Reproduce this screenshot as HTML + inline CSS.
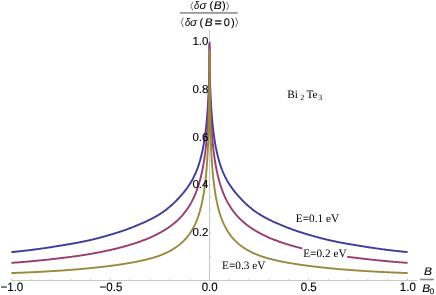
<!DOCTYPE html>
<html><head><meta charset="utf-8"><title>plot</title>
<style>
html,body{margin:0;padding:0;background:#fff;}
body{width:436px;height:295px;overflow:hidden;}
svg{display:block;will-change:transform;}
text{text-rendering:geometricPrecision;}
.sans{font-family:"Liberation Sans",sans-serif;font-size:11.5px;fill:#000;stroke:#000;stroke-width:0.12px;}
.serif{font-family:"Liberation Serif",serif;font-size:11.3px;fill:#000;}
</style></head><body>
<svg width="436" height="295" viewBox="0 0 436 295">
<g stroke="#c8c8c8" stroke-width="1" fill="none">
<line x1="11.40" x2="416.90" y1="280.5" y2="280.5"/>
<line x1="209.5" x2="209.5" y1="280.5" y2="30.2"/>
</g>
<g stroke="#9a9a9a" stroke-width="0.6" fill="none">
<line x1="11.40" x2="11.40" y1="280" y2="278.70"/>
<line x1="31.21" x2="31.21" y1="280" y2="279.10"/>
<line x1="51.02" x2="51.02" y1="280" y2="279.10"/>
<line x1="70.83" x2="70.83" y1="280" y2="279.10"/>
<line x1="90.64" x2="90.64" y1="280" y2="279.10"/>
<line x1="110.45" x2="110.45" y1="280" y2="278.70"/>
<line x1="130.26" x2="130.26" y1="280" y2="279.10"/>
<line x1="150.07" x2="150.07" y1="280" y2="279.10"/>
<line x1="169.88" x2="169.88" y1="280" y2="279.10"/>
<line x1="189.69" x2="189.69" y1="280" y2="279.10"/>
<line x1="209.50" x2="209.50" y1="280" y2="278.70"/>
<line x1="229.31" x2="229.31" y1="280" y2="279.10"/>
<line x1="249.12" x2="249.12" y1="280" y2="279.10"/>
<line x1="268.93" x2="268.93" y1="280" y2="279.10"/>
<line x1="288.74" x2="288.74" y1="280" y2="279.10"/>
<line x1="308.55" x2="308.55" y1="280" y2="278.70"/>
<line x1="328.36" x2="328.36" y1="280" y2="279.10"/>
<line x1="348.17" x2="348.17" y1="280" y2="279.10"/>
<line x1="367.98" x2="367.98" y1="280" y2="279.10"/>
<line x1="387.79" x2="387.79" y1="280" y2="279.10"/>
<line x1="407.60" x2="407.60" y1="280" y2="278.70"/>
<line x1="210" x2="210.90" y1="268.37" y2="268.37"/>
<line x1="210" x2="210.90" y1="256.44" y2="256.44"/>
<line x1="210" x2="210.90" y1="244.51" y2="244.51"/>
<line x1="210" x2="211.30" y1="232.58" y2="232.58"/>
<line x1="210" x2="210.90" y1="220.65" y2="220.65"/>
<line x1="210" x2="210.90" y1="208.72" y2="208.72"/>
<line x1="210" x2="210.90" y1="196.79" y2="196.79"/>
<line x1="210" x2="211.30" y1="184.86" y2="184.86"/>
<line x1="210" x2="210.90" y1="172.93" y2="172.93"/>
<line x1="210" x2="210.90" y1="161.00" y2="161.00"/>
<line x1="210" x2="210.90" y1="149.07" y2="149.07"/>
<line x1="210" x2="211.30" y1="137.14" y2="137.14"/>
<line x1="210" x2="210.90" y1="125.21" y2="125.21"/>
<line x1="210" x2="210.90" y1="113.28" y2="113.28"/>
<line x1="210" x2="210.90" y1="101.35" y2="101.35"/>
<line x1="210" x2="211.30" y1="89.42" y2="89.42"/>
<line x1="210" x2="210.90" y1="77.49" y2="77.49"/>
<line x1="210" x2="210.90" y1="65.56" y2="65.56"/>
<line x1="210" x2="210.90" y1="53.63" y2="53.63"/>
<line x1="210" x2="211.30" y1="41.70" y2="41.70"/>
</g>
<g fill="none" stroke-width="1.9" stroke-linejoin="round" stroke-linecap="butt">
<path d="M11.40,252.11 L11.60,252.09 L12.19,252.03 L12.79,251.97 L13.38,251.91 L13.98,251.85 L14.57,251.80 L15.16,251.74 L15.76,251.68 L16.35,251.62 L16.95,251.56 L17.54,251.49 L18.14,251.43 L18.73,251.37 L19.32,251.31 L19.92,251.25 L20.51,251.18 L21.11,251.12 L21.70,251.05 L22.30,250.99 L22.89,250.92 L23.48,250.86 L24.08,250.79 L24.67,250.72 L25.27,250.65 L25.86,250.59 L26.46,250.52 L27.05,250.45 L27.64,250.38 L28.24,250.31 L28.83,250.23 L29.43,250.16 L30.02,250.09 L30.62,250.02 L31.21,249.94 L31.80,249.87 L32.40,249.79 L32.99,249.72 L33.59,249.64 L34.18,249.56 L34.78,249.49 L35.37,249.41 L35.96,249.33 L36.56,249.25 L37.15,249.17 L37.75,249.09 L38.34,249.01 L38.94,248.93 L39.53,248.84 L40.12,248.76 L40.72,248.68 L41.31,248.59 L41.91,248.51 L42.50,248.43 L43.10,248.34 L43.69,248.25 L44.28,248.17 L44.88,248.08 L45.47,247.99 L46.07,247.91 L46.66,247.82 L47.26,247.73 L47.85,247.64 L48.44,247.55 L49.04,247.46 L49.63,247.37 L50.23,247.28 L50.82,247.19 L51.42,247.09 L52.01,247.00 L52.60,246.91 L53.20,246.81 L53.79,246.72 L54.39,246.62 L54.98,246.53 L55.58,246.43 L56.17,246.34 L56.76,246.24 L57.36,246.14 L57.95,246.05 L58.55,245.95 L59.14,245.85 L59.74,245.75 L60.33,245.65 L60.92,245.55 L61.52,245.45 L62.11,245.35 L62.71,245.25 L63.30,245.16 L63.90,245.06 L64.49,244.96 L65.09,244.86 L65.68,244.76 L66.27,244.66 L66.87,244.56 L67.46,244.46 L68.06,244.36 L68.65,244.26 L69.25,244.16 L69.84,244.06 L70.43,243.96 L71.03,243.86 L71.62,243.76 L71.80,243.73 L72.22,243.65 L72.81,243.55 L73.41,243.45 L74.00,243.34 L74.59,243.24 L75.19,243.13 L75.78,243.02 L76.38,242.92 L76.97,242.81 L77.57,242.70 L78.16,242.59 L78.75,242.48 L79.35,242.36 L79.94,242.25 L80.54,242.13 L81.13,242.02 L81.73,241.90 L82.32,241.78 L82.91,241.66 L83.51,241.54 L84.10,241.42 L84.70,241.30 L85.29,241.17 L85.89,241.05 L86.48,240.92 L87.07,240.79 L87.67,240.66 L88.26,240.52 L88.86,240.39 L89.45,240.25 L90.05,240.11 L90.64,239.97 L91.23,239.83 L91.83,239.69 L92.42,239.55 L93.02,239.40 L93.61,239.26 L94.21,239.11 L94.80,238.96 L95.39,238.82 L95.99,238.67 L96.58,238.51 L97.18,238.36 L97.77,238.21 L98.37,238.06 L98.96,237.90 L99.55,237.74 L100.15,237.59 L100.74,237.43 L101.34,237.27 L101.93,237.11 L102.53,236.95 L103.12,236.79 L103.71,236.62 L104.31,236.46 L104.90,236.29 L105.50,236.13 L106.09,235.96 L106.69,235.79 L107.28,235.62 L107.87,235.45 L108.47,235.28 L109.06,235.10 L109.66,234.93 L110.25,234.76 L110.85,234.58 L111.44,234.40 L112.03,234.22 L112.63,234.04 L113.22,233.86 L113.82,233.68 L114.41,233.50 L115.01,233.32 L115.60,233.13 L116.19,232.95 L116.70,232.79 L116.79,232.76 L117.38,232.58 L117.98,232.39 L118.57,232.20 L119.17,232.01 L119.76,231.82 L120.35,231.63 L120.95,231.43 L121.54,231.23 L122.14,231.03 L122.73,230.83 L123.33,230.63 L123.92,230.42 L124.52,230.21 L125.11,230.00 L125.70,229.79 L126.30,229.57 L126.89,229.35 L127.49,229.13 L128.08,228.91 L128.68,228.69 L129.27,228.46 L129.86,228.24 L130.46,228.01 L131.05,227.78 L131.65,227.54 L132.24,227.31 L132.84,227.08 L133.43,226.84 L134.02,226.60 L134.62,226.36 L135.21,226.12 L135.81,225.88 L136.40,225.64 L137.00,225.40 L137.59,225.15 L138.18,224.91 L138.78,224.66 L139.37,224.41 L139.97,224.16 L140.56,223.91 L141.16,223.66 L141.75,223.41 L142.34,223.15 L142.94,222.89 L143.53,222.63 L144.13,222.36 L144.72,222.10 L145.32,221.83 L145.91,221.55 L146.50,221.28 L147.10,221.00 L147.69,220.71 L148.29,220.43 L148.88,220.14 L149.48,219.85 L150.07,219.55 L150.66,219.25 L151.26,218.95 L151.85,218.64 L152.45,218.33 L153.04,218.02 L153.64,217.70 L154.23,217.38 L154.82,217.05 L155.42,216.72 L156.01,216.39 L156.61,216.04 L157.20,215.70 L157.80,215.35 L158.39,214.99 L158.98,214.63 L159.58,214.26 L160.17,213.88 L160.77,213.50 L161.36,213.11 L161.96,212.72 L162.55,212.31 L163.14,211.90 L163.74,211.48 L164.33,211.06 L164.93,210.62 L165.52,210.18 L166.12,209.73 L166.71,209.27 L167.30,208.81 L167.90,208.33 L168.49,207.85 L169.09,207.35 L169.68,206.85 L170.28,206.34 L170.87,205.82 L171.46,205.29 L172.06,204.75 L172.65,204.21 L173.25,203.65 L173.84,203.09 L174.44,202.51 L175.03,201.93 L175.62,201.33 L176.22,200.73 L176.81,200.12 L177.41,199.50 L178.00,198.87 L178.60,198.23 L179.19,197.59 L179.78,196.93 L180.38,196.27 L180.97,195.60 L181.57,194.91 L182.16,194.22 L182.76,193.52 L183.35,192.80 L183.95,192.07 L184.54,191.33 L185.13,190.58 L185.73,189.81 L186.32,189.02 L186.92,188.22 L187.51,187.40 L188.11,186.55 L188.70,185.69 L189.29,184.80 L189.89,183.88 L190.48,182.93 L191.08,181.96 L191.67,180.94 L192.27,179.89 L192.86,178.79 L193.45,177.65 L194.05,176.46 L194.64,175.21 L195.24,173.91 L195.83,172.55 L196.43,171.12 L197.02,169.61 L197.61,168.03 L198.21,166.35 L198.80,164.58 L199.40,162.70 L199.99,160.70 L200.59,158.56 L201.18,156.28 L201.77,153.82 L202.37,151.16 L202.96,148.28 L203.24,146.87 L203.53,145.28 L203.56,145.13 L203.81,143.68 L204.08,142.10 L204.34,140.52 L204.58,138.94 L204.81,137.37 L205.03,135.81 L205.25,134.26 L205.45,132.71 L205.64,131.18 L205.82,129.66 L205.99,128.15 L206.16,126.64 L206.32,125.15 L206.47,123.68 L206.61,122.22 L206.75,120.77 L206.88,119.33 L207.00,117.91 L207.12,116.50 L207.23,115.11 L207.34,113.74 L207.44,112.38 L207.54,111.04 L207.63,109.71 L207.72,108.41 L207.80,107.12 L207.88,105.84 L207.96,104.59 L208.03,103.35 L208.10,102.13 L208.17,100.93 L208.23,99.75 L208.29,98.59 L208.35,97.45 L208.40,96.32 L208.45,95.22 L208.50,94.13 L208.55,93.06 L208.60,92.01 L208.64,90.98 L208.68,89.97 L208.72,88.98 L208.75,88.01 L208.79,87.05 L208.82,86.12 L208.86,85.20 L208.89,84.30 L208.91,83.42 L208.94,82.55 L208.97,81.71 L208.99,80.88 L209.02,80.07 L209.04,79.28 L209.06,78.50 L209.08,77.74 L209.10,77.00 L209.12,76.27 L209.14,75.56 L209.16,74.87 L209.17,74.19 L209.19,73.53 L209.20,72.88 L209.22,72.25 L209.23,71.63 L209.24,71.03 L209.25,70.44 L209.27,69.87 L209.28,69.31 L209.29,68.36 L209.30,67.15 L209.31,66.01 L209.32,64.92 L209.33,63.88 L209.33,62.89 L209.34,61.94 L209.35,61.04 L209.36,60.19 L209.36,59.37 L209.37,58.59 L209.38,57.85 L209.38,57.14 L209.39,56.47 L209.39,55.83 L209.40,55.22 L209.40,54.64 L209.41,54.08 L209.41,53.55 L209.42,53.05 L209.42,52.57 L209.42,52.11 L209.43,51.68 L209.43,51.26 L209.43,50.87 L209.44,50.49 L209.44,50.13 L209.44,49.79 L209.45,49.46 L209.45,49.15 L209.45,48.86 L209.45,48.58 L209.45,48.31 L209.46,48.05 L209.46,47.81 L209.46,47.58 L209.46,47.36 L209.46,47.15 L209.47,46.94 L209.47,46.75 L209.47,46.57 L209.47,46.40 L209.47,46.23 L209.47,46.07 L209.47,45.92 L209.48,45.78 L209.48,45.64 L209.48,45.51 L209.48,45.39 L209.48,45.27 L209.50,42.89 L209.52,45.27 L209.52,45.39 L209.52,45.51 L209.52,45.64 L209.52,45.78 L209.53,45.92 L209.53,46.07 L209.53,46.23 L209.53,46.40 L209.53,46.57 L209.53,46.75 L209.53,46.94 L209.54,47.15 L209.54,47.36 L209.54,47.58 L209.54,47.81 L209.54,48.05 L209.55,48.31 L209.55,48.58 L209.55,48.86 L209.55,49.15 L209.55,49.46 L209.56,49.79 L209.56,50.13 L209.56,50.49 L209.57,50.87 L209.57,51.26 L209.57,51.68 L209.58,52.11 L209.58,52.57 L209.58,53.05 L209.59,53.55 L209.59,54.08 L209.60,54.64 L209.60,55.22 L209.61,55.83 L209.61,56.47 L209.62,57.14 L209.62,57.85 L209.63,58.59 L209.64,59.37 L209.64,60.19 L209.65,61.04 L209.66,61.94 L209.67,62.89 L209.67,63.88 L209.68,64.92 L209.69,66.01 L209.70,67.15 L209.71,68.36 L209.72,69.31 L209.73,69.87 L209.75,70.44 L209.76,71.03 L209.77,71.63 L209.78,72.25 L209.80,72.88 L209.81,73.53 L209.83,74.19 L209.84,74.87 L209.86,75.56 L209.88,76.27 L209.90,77.00 L209.92,77.74 L209.94,78.50 L209.96,79.28 L209.98,80.07 L210.01,80.88 L210.03,81.71 L210.06,82.55 L210.09,83.42 L210.11,84.30 L210.14,85.20 L210.18,86.12 L210.21,87.05 L210.25,88.01 L210.28,88.98 L210.32,89.97 L210.36,90.98 L210.40,92.01 L210.45,93.06 L210.50,94.13 L210.55,95.22 L210.60,96.32 L210.65,97.45 L210.71,98.59 L210.77,99.75 L210.83,100.93 L210.90,102.13 L210.97,103.35 L211.04,104.59 L211.12,105.84 L211.20,107.12 L211.28,108.41 L211.37,109.71 L211.46,111.04 L211.56,112.38 L211.66,113.74 L211.77,115.11 L211.88,116.50 L212.00,117.91 L212.12,119.33 L212.25,120.77 L212.39,122.22 L212.53,123.68 L212.68,125.15 L212.84,126.64 L213.01,128.15 L213.18,129.66 L213.36,131.18 L213.55,132.71 L213.75,134.26 L213.97,135.81 L214.19,137.37 L214.42,138.94 L214.66,140.52 L214.92,142.10 L215.19,143.68 L215.44,145.13 L215.47,145.28 L215.76,146.87 L216.04,148.28 L216.63,151.16 L217.23,153.82 L217.82,156.28 L218.41,158.56 L219.01,160.70 L219.60,162.70 L220.20,164.58 L220.79,166.35 L221.39,168.03 L221.98,169.61 L222.57,171.12 L223.17,172.55 L223.76,173.91 L224.36,175.21 L224.95,176.46 L225.55,177.65 L226.14,178.79 L226.73,179.89 L227.33,180.94 L227.92,181.96 L228.52,182.93 L229.11,183.88 L229.71,184.80 L230.30,185.69 L230.89,186.55 L231.49,187.40 L232.08,188.22 L232.68,189.02 L233.27,189.81 L233.87,190.58 L234.46,191.33 L235.05,192.07 L235.65,192.80 L236.24,193.52 L236.84,194.22 L237.43,194.91 L238.03,195.60 L238.62,196.27 L239.22,196.93 L239.81,197.59 L240.40,198.23 L241.00,198.87 L241.59,199.50 L242.19,200.12 L242.78,200.73 L243.38,201.33 L243.97,201.93 L244.56,202.51 L245.16,203.09 L245.75,203.65 L246.35,204.21 L246.94,204.75 L247.54,205.29 L248.13,205.82 L248.72,206.34 L249.32,206.85 L249.91,207.35 L250.51,207.85 L251.10,208.33 L251.70,208.81 L252.29,209.27 L252.88,209.73 L253.48,210.18 L254.07,210.62 L254.67,211.06 L255.26,211.48 L255.86,211.90 L256.45,212.31 L257.04,212.72 L257.64,213.11 L258.23,213.50 L258.83,213.88 L259.42,214.26 L260.02,214.63 L260.61,214.99 L261.20,215.35 L261.80,215.70 L262.39,216.04 L262.99,216.39 L263.58,216.72 L264.18,217.05 L264.77,217.38 L265.36,217.70 L265.96,218.02 L266.55,218.33 L267.15,218.64 L267.74,218.95 L268.34,219.25 L268.93,219.55 L269.52,219.85 L270.12,220.14 L270.71,220.43 L271.31,220.71 L271.90,221.00 L272.50,221.28 L273.09,221.55 L273.68,221.83 L274.28,222.10 L274.87,222.36 L275.47,222.63 L276.06,222.89 L276.66,223.15 L277.25,223.41 L277.84,223.66 L278.44,223.91 L279.03,224.16 L279.63,224.41 L280.22,224.66 L280.82,224.91 L281.41,225.15 L282.00,225.40 L282.60,225.64 L283.19,225.88 L283.79,226.12 L284.38,226.36 L284.98,226.60 L285.57,226.84 L286.16,227.08 L286.76,227.31 L287.35,227.54 L287.95,227.78 L288.54,228.01 L289.14,228.24 L289.73,228.46 L290.32,228.69 L290.92,228.91 L291.51,229.13 L292.11,229.35 L292.70,229.57 L293.30,229.79 L293.89,230.00 L294.48,230.21 L295.08,230.42 L295.67,230.63 L296.27,230.83 L296.86,231.03 L297.46,231.23 L298.05,231.43 L298.65,231.63 L299.24,231.82 L299.83,232.01 L300.43,232.20 L301.02,232.39 L301.62,232.58 L302.21,232.76 L302.30,232.79 L302.81,232.95 L303.40,233.13 L303.99,233.32 L304.59,233.50 L305.18,233.68 L305.78,233.86 L306.37,234.04 L306.97,234.22 L307.56,234.40 L308.15,234.58 L308.75,234.76 L309.34,234.93 L309.94,235.10 L310.53,235.28 L311.13,235.45 L311.72,235.62 L312.31,235.79 L312.91,235.96 L313.50,236.13 L314.10,236.29 L314.69,236.46 L315.29,236.62 L315.88,236.79 L316.47,236.95 L317.07,237.11 L317.66,237.27 L318.26,237.43 L318.85,237.59 L319.45,237.74 L320.04,237.90 L320.63,238.06 L321.23,238.21 L321.82,238.36 L322.42,238.51 L323.01,238.67 L323.61,238.82 L324.20,238.96 L324.79,239.11 L325.39,239.26 L325.98,239.40 L326.58,239.55 L327.17,239.69 L327.77,239.83 L328.36,239.97 L328.95,240.11 L329.55,240.25 L330.14,240.39 L330.74,240.52 L331.33,240.66 L331.93,240.79 L332.52,240.92 L333.11,241.05 L333.71,241.17 L334.30,241.30 L334.90,241.42 L335.49,241.54 L336.09,241.66 L336.68,241.78 L337.27,241.90 L337.87,242.02 L338.46,242.13 L339.06,242.25 L339.65,242.36 L340.25,242.48 L340.84,242.59 L341.43,242.70 L342.03,242.81 L342.62,242.92 L343.22,243.02 L343.81,243.13 L344.41,243.24 L345.00,243.34 L345.59,243.45 L346.19,243.55 L346.78,243.65 L347.20,243.73 L347.38,243.76 L347.97,243.86 L348.57,243.96 L349.16,244.06 L349.75,244.16 L350.35,244.26 L350.94,244.36 L351.54,244.46 L352.13,244.56 L352.73,244.66 L353.32,244.76 L353.91,244.86 L354.51,244.96 L355.10,245.06 L355.70,245.16 L356.29,245.25 L356.89,245.35 L357.48,245.45 L358.08,245.55 L358.67,245.65 L359.26,245.75 L359.86,245.85 L360.45,245.95 L361.05,246.05 L361.64,246.14 L362.24,246.24 L362.83,246.34 L363.42,246.43 L364.02,246.53 L364.61,246.62 L365.21,246.72 L365.80,246.81 L366.40,246.91 L366.99,247.00 L367.58,247.09 L368.18,247.19 L368.77,247.28 L369.37,247.37 L369.96,247.46 L370.56,247.55 L371.15,247.64 L371.74,247.73 L372.34,247.82 L372.93,247.91 L373.53,247.99 L374.12,248.08 L374.72,248.17 L375.31,248.25 L375.90,248.34 L376.50,248.43 L377.09,248.51 L377.69,248.59 L378.28,248.68 L378.88,248.76 L379.47,248.84 L380.06,248.93 L380.66,249.01 L381.25,249.09 L381.85,249.17 L382.44,249.25 L383.04,249.33 L383.63,249.41 L384.22,249.49 L384.82,249.56 L385.41,249.64 L386.01,249.72 L386.60,249.79 L387.20,249.87 L387.79,249.94 L388.38,250.02 L388.98,250.09 L389.57,250.16 L390.17,250.23 L390.76,250.31 L391.36,250.38 L391.95,250.45 L392.54,250.52 L393.14,250.59 L393.73,250.65 L394.33,250.72 L394.92,250.79 L395.52,250.86 L396.11,250.92 L396.70,250.99 L397.30,251.05 L397.89,251.12 L398.49,251.18 L399.08,251.25 L399.68,251.31 L400.27,251.37 L400.86,251.43 L401.46,251.49 L402.05,251.56 L402.65,251.62 L403.24,251.68 L403.84,251.74 L404.43,251.80 L405.02,251.85 L405.62,251.91 L406.21,251.97 L406.81,252.03 L407.40,252.09 L407.60,252.11" stroke="#3d3d99"/>
<path d="M11.40,262.88 L11.60,262.87 L12.19,262.83 L12.79,262.78 L13.38,262.74 L13.98,262.69 L14.57,262.65 L15.16,262.60 L15.76,262.56 L16.35,262.51 L16.95,262.47 L17.54,262.42 L18.14,262.38 L18.73,262.33 L19.32,262.28 L19.92,262.23 L20.51,262.19 L21.11,262.14 L21.70,262.09 L22.30,262.04 L22.89,261.99 L23.48,261.94 L24.08,261.89 L24.67,261.84 L25.27,261.79 L25.86,261.74 L26.46,261.69 L27.05,261.64 L27.64,261.59 L28.24,261.53 L28.83,261.48 L29.43,261.43 L30.02,261.37 L30.62,261.32 L31.21,261.27 L31.80,261.21 L32.40,261.16 L32.99,261.10 L33.59,261.05 L34.18,260.99 L34.78,260.93 L35.37,260.88 L35.96,260.82 L36.56,260.76 L37.15,260.71 L37.75,260.65 L38.34,260.59 L38.94,260.53 L39.53,260.47 L40.12,260.41 L40.72,260.35 L41.31,260.29 L41.91,260.23 L42.50,260.17 L43.10,260.10 L43.69,260.04 L44.28,259.98 L44.88,259.92 L45.47,259.85 L46.07,259.79 L46.66,259.72 L47.26,259.66 L47.85,259.59 L48.44,259.53 L49.04,259.46 L49.63,259.40 L50.23,259.33 L50.82,259.26 L51.42,259.19 L52.01,259.13 L52.60,259.06 L53.20,258.99 L53.79,258.92 L54.39,258.85 L54.98,258.78 L55.58,258.72 L56.17,258.65 L56.76,258.58 L57.36,258.51 L57.95,258.44 L58.55,258.37 L59.14,258.30 L59.74,258.23 L60.33,258.16 L60.92,258.09 L61.52,258.02 L62.11,257.95 L62.71,257.88 L63.30,257.80 L63.90,257.73 L64.49,257.66 L65.09,257.59 L65.68,257.51 L66.27,257.44 L66.87,257.37 L67.46,257.29 L68.06,257.22 L68.65,257.14 L69.25,257.07 L69.84,256.99 L70.43,256.91 L71.03,256.83 L71.62,256.76 L71.80,256.73 L72.22,256.68 L72.81,256.60 L73.41,256.52 L74.00,256.44 L74.59,256.36 L75.19,256.28 L75.78,256.20 L76.38,256.11 L76.97,256.03 L77.57,255.95 L78.16,255.86 L78.75,255.78 L79.35,255.69 L79.94,255.60 L80.54,255.51 L81.13,255.43 L81.73,255.34 L82.32,255.25 L82.91,255.15 L83.51,255.06 L84.10,254.97 L84.70,254.88 L85.29,254.78 L85.89,254.68 L86.48,254.59 L87.07,254.49 L87.67,254.39 L88.26,254.29 L88.86,254.19 L89.45,254.09 L90.05,253.99 L90.64,253.88 L91.23,253.78 L91.83,253.67 L92.42,253.56 L93.02,253.46 L93.61,253.35 L94.21,253.24 L94.80,253.13 L95.39,253.02 L95.99,252.91 L96.58,252.80 L97.18,252.68 L97.77,252.57 L98.37,252.46 L98.96,252.34 L99.55,252.22 L100.15,252.11 L100.74,251.99 L101.34,251.87 L101.93,251.75 L102.53,251.63 L103.12,251.51 L103.71,251.39 L104.31,251.26 L104.90,251.14 L105.50,251.01 L106.09,250.89 L106.69,250.76 L107.28,250.63 L107.87,250.50 L108.47,250.37 L109.06,250.24 L109.66,250.11 L110.25,249.98 L110.85,249.84 L111.44,249.71 L112.03,249.57 L112.63,249.43 L113.22,249.29 L113.82,249.15 L114.41,249.01 L115.01,248.87 L115.60,248.73 L116.19,248.58 L116.70,248.46 L116.79,248.44 L117.38,248.29 L117.98,248.14 L118.57,247.99 L119.17,247.84 L119.76,247.69 L120.35,247.53 L120.95,247.38 L121.54,247.22 L122.14,247.06 L122.73,246.91 L123.33,246.74 L123.92,246.58 L124.52,246.42 L125.11,246.25 L125.70,246.09 L126.30,245.92 L126.89,245.75 L127.49,245.58 L128.08,245.41 L128.68,245.23 L129.27,245.05 L129.86,244.88 L130.46,244.70 L131.05,244.52 L131.65,244.33 L132.24,244.15 L132.84,243.96 L133.43,243.77 L134.02,243.58 L134.62,243.39 L135.21,243.19 L135.81,243.00 L136.40,242.80 L137.00,242.60 L137.59,242.39 L138.18,242.19 L138.78,241.98 L139.37,241.77 L139.97,241.56 L140.56,241.35 L141.16,241.13 L141.75,240.91 L142.34,240.69 L142.94,240.47 L143.53,240.24 L144.13,240.01 L144.72,239.78 L145.32,239.55 L145.91,239.31 L146.50,239.07 L147.10,238.83 L147.69,238.58 L148.29,238.34 L148.88,238.08 L149.48,237.83 L150.07,237.57 L150.66,237.31 L151.26,237.05 L151.85,236.78 L152.45,236.51 L153.04,236.23 L153.64,235.96 L154.23,235.67 L154.82,235.39 L155.42,235.10 L156.01,234.81 L156.61,234.51 L157.20,234.21 L157.80,233.90 L158.39,233.59 L158.98,233.27 L159.58,232.95 L160.17,232.63 L160.77,232.30 L161.36,231.97 L161.96,231.63 L162.55,231.28 L163.14,230.93 L163.74,230.58 L164.33,230.22 L164.93,229.85 L165.52,229.48 L166.12,229.10 L166.71,228.71 L167.30,228.32 L167.90,227.92 L168.49,227.51 L169.09,227.10 L169.68,226.68 L170.28,226.25 L170.87,225.81 L171.46,225.37 L172.06,224.92 L172.65,224.45 L173.25,223.98 L173.84,223.50 L174.44,223.01 L175.03,222.51 L175.62,221.99 L176.22,221.47 L176.81,220.94 L177.41,220.39 L178.00,219.83 L178.60,219.26 L179.19,218.67 L179.78,218.07 L180.38,217.46 L180.97,216.83 L181.57,216.18 L182.16,215.51 L182.76,214.83 L183.35,214.13 L183.95,213.41 L184.54,212.67 L185.13,211.91 L185.73,211.13 L186.32,210.32 L186.92,209.49 L187.51,208.63 L188.11,207.75 L188.70,206.83 L189.29,205.89 L189.89,204.91 L190.48,203.90 L191.08,202.85 L191.67,201.76 L192.27,200.63 L192.86,199.45 L193.45,198.23 L194.05,196.96 L194.64,195.62 L195.24,194.23 L195.83,192.78 L196.43,191.25 L197.02,189.65 L197.61,187.96 L198.21,186.18 L198.80,184.30 L199.40,182.30 L199.99,180.18 L200.59,177.92 L201.18,175.50 L201.77,172.90 L202.37,170.09 L202.96,167.04 L203.24,165.55 L203.53,163.85 L203.56,163.70 L203.81,162.17 L204.08,160.48 L204.34,158.80 L204.58,157.13 L204.81,155.46 L205.03,153.80 L205.25,152.14 L205.45,150.49 L205.64,148.85 L205.82,147.22 L205.99,145.59 L206.16,143.98 L206.32,142.37 L206.47,140.77 L206.61,139.18 L206.75,137.61 L206.88,136.04 L207.00,134.48 L207.12,132.94 L207.23,131.41 L207.34,129.89 L207.44,128.38 L207.54,126.89 L207.63,125.41 L207.72,123.94 L207.80,122.49 L207.88,121.04 L207.96,119.62 L208.03,118.21 L208.10,116.81 L208.17,115.42 L208.23,114.06 L208.29,112.70 L208.35,111.36 L208.40,110.04 L208.45,108.73 L208.50,107.44 L208.55,106.16 L208.60,104.90 L208.64,103.65 L208.68,102.42 L208.72,101.21 L208.75,100.01 L208.79,98.83 L208.82,97.66 L208.86,96.51 L208.89,95.37 L208.91,94.25 L208.94,93.15 L208.97,92.06 L208.99,90.99 L209.02,89.93 L209.04,88.89 L209.06,87.87 L209.08,86.86 L209.10,85.87 L209.12,84.89 L209.14,83.93 L209.16,82.98 L209.17,82.05 L209.19,81.13 L209.20,80.23 L209.22,79.34 L209.23,78.47 L209.24,77.61 L209.25,76.77 L209.27,75.94 L209.28,75.13 L209.29,74.33 L209.30,73.55 L209.31,72.78 L209.32,72.02 L209.33,71.28 L209.33,70.55 L209.34,69.84 L209.35,69.13 L209.36,68.45 L209.36,67.67 L209.37,66.58 L209.38,65.54 L209.38,64.55 L209.39,63.60 L209.39,62.70 L209.40,61.85 L209.40,61.03 L209.41,60.25 L209.41,59.51 L209.42,58.81 L209.42,58.13 L209.42,57.49 L209.43,56.88 L209.43,56.30 L209.43,55.75 L209.44,55.22 L209.44,54.72 L209.44,54.24 L209.45,53.78 L209.45,53.34 L209.45,52.93 L209.45,52.53 L209.45,52.16 L209.46,51.80 L209.46,51.46 L209.46,51.13 L209.46,50.82 L209.46,50.53 L209.47,50.24 L209.47,49.98 L209.47,49.72 L209.47,49.48 L209.47,49.25 L209.47,49.02 L209.47,48.81 L209.48,48.61 L209.48,48.42 L209.48,48.24 L209.48,48.07 L209.48,47.90 L209.50,44.56 L209.52,47.90 L209.52,48.07 L209.52,48.24 L209.52,48.42 L209.52,48.61 L209.53,48.81 L209.53,49.02 L209.53,49.25 L209.53,49.48 L209.53,49.72 L209.53,49.98 L209.53,50.24 L209.54,50.53 L209.54,50.82 L209.54,51.13 L209.54,51.46 L209.54,51.80 L209.55,52.16 L209.55,52.53 L209.55,52.93 L209.55,53.34 L209.55,53.78 L209.56,54.24 L209.56,54.72 L209.56,55.22 L209.57,55.75 L209.57,56.30 L209.57,56.88 L209.58,57.49 L209.58,58.13 L209.58,58.81 L209.59,59.51 L209.59,60.25 L209.60,61.03 L209.60,61.85 L209.61,62.70 L209.61,63.60 L209.62,64.55 L209.62,65.54 L209.63,66.58 L209.64,67.67 L209.64,68.45 L209.65,69.13 L209.66,69.84 L209.67,70.55 L209.67,71.28 L209.68,72.02 L209.69,72.78 L209.70,73.55 L209.71,74.33 L209.72,75.13 L209.73,75.94 L209.75,76.77 L209.76,77.61 L209.77,78.47 L209.78,79.34 L209.80,80.23 L209.81,81.13 L209.83,82.05 L209.84,82.98 L209.86,83.93 L209.88,84.89 L209.90,85.87 L209.92,86.86 L209.94,87.87 L209.96,88.89 L209.98,89.93 L210.01,90.99 L210.03,92.06 L210.06,93.15 L210.09,94.25 L210.11,95.37 L210.14,96.51 L210.18,97.66 L210.21,98.83 L210.25,100.01 L210.28,101.21 L210.32,102.42 L210.36,103.65 L210.40,104.90 L210.45,106.16 L210.50,107.44 L210.55,108.73 L210.60,110.04 L210.65,111.36 L210.71,112.70 L210.77,114.06 L210.83,115.42 L210.90,116.81 L210.97,118.21 L211.04,119.62 L211.12,121.04 L211.20,122.49 L211.28,123.94 L211.37,125.41 L211.46,126.89 L211.56,128.38 L211.66,129.89 L211.77,131.41 L211.88,132.94 L212.00,134.48 L212.12,136.04 L212.25,137.61 L212.39,139.18 L212.53,140.77 L212.68,142.37 L212.84,143.98 L213.01,145.59 L213.18,147.22 L213.36,148.85 L213.55,150.49 L213.75,152.14 L213.97,153.80 L214.19,155.46 L214.42,157.13 L214.66,158.80 L214.92,160.48 L215.19,162.17 L215.44,163.70 L215.47,163.85 L215.76,165.55 L216.04,167.04 L216.63,170.09 L217.23,172.90 L217.82,175.50 L218.41,177.92 L219.01,180.18 L219.60,182.30 L220.20,184.30 L220.79,186.18 L221.39,187.96 L221.98,189.65 L222.57,191.25 L223.17,192.78 L223.76,194.23 L224.36,195.62 L224.95,196.96 L225.55,198.23 L226.14,199.45 L226.73,200.63 L227.33,201.76 L227.92,202.85 L228.52,203.90 L229.11,204.91 L229.71,205.89 L230.30,206.83 L230.89,207.75 L231.49,208.63 L232.08,209.49 L232.68,210.32 L233.27,211.13 L233.87,211.91 L234.46,212.67 L235.05,213.41 L235.65,214.13 L236.24,214.83 L236.84,215.51 L237.43,216.18 L238.03,216.83 L238.62,217.46 L239.22,218.07 L239.81,218.67 L240.40,219.26 L241.00,219.83 L241.59,220.39 L242.19,220.94 L242.78,221.47 L243.38,221.99 L243.97,222.51 L244.56,223.01 L245.16,223.50 L245.75,223.98 L246.35,224.45 L246.94,224.92 L247.54,225.37 L248.13,225.81 L248.72,226.25 L249.32,226.68 L249.91,227.10 L250.51,227.51 L251.10,227.92 L251.70,228.32 L252.29,228.71 L252.88,229.10 L253.48,229.48 L254.07,229.85 L254.67,230.22 L255.26,230.58 L255.86,230.93 L256.45,231.28 L257.04,231.63 L257.64,231.97 L258.23,232.30 L258.83,232.63 L259.42,232.95 L260.02,233.27 L260.61,233.59 L261.20,233.90 L261.80,234.21 L262.39,234.51 L262.99,234.81 L263.58,235.10 L264.18,235.39 L264.77,235.67 L265.36,235.96 L265.96,236.23 L266.55,236.51 L267.15,236.78 L267.74,237.05 L268.34,237.31 L268.93,237.57 L269.52,237.83 L270.12,238.08 L270.71,238.34 L271.31,238.58 L271.90,238.83 L272.50,239.07 L273.09,239.31 L273.68,239.55 L274.28,239.78 L274.87,240.01 L275.47,240.24 L276.06,240.47 L276.66,240.69 L277.25,240.91 L277.84,241.13 L278.44,241.35 L279.03,241.56 L279.63,241.77 L280.22,241.98 L280.82,242.19 L281.41,242.39 L282.00,242.60 L282.60,242.80 L283.19,243.00 L283.79,243.19 L284.38,243.39 L284.98,243.58 L285.57,243.77 L286.16,243.96 L286.76,244.15 L287.35,244.33 L287.95,244.52 L288.54,244.70 L289.14,244.88 L289.73,245.05 L290.32,245.23 L290.92,245.41 L291.51,245.58 L292.11,245.75 L292.70,245.92 L293.30,246.09 L293.89,246.25 L294.48,246.42 L295.08,246.58 L295.67,246.74 L296.27,246.91 L296.86,247.06 L297.46,247.22 L298.05,247.38 L298.65,247.53 L299.24,247.69 L299.83,247.84 L300.43,247.99 L301.02,248.14 L301.62,248.29 L302.21,248.44 L302.30,248.46" stroke="#993d71"/>
<path d="M347.20,256.73 L347.38,256.76 L347.97,256.83 L348.57,256.91 L349.16,256.99 L349.75,257.07 L350.35,257.14 L350.94,257.22 L351.54,257.29 L352.13,257.37 L352.73,257.44 L353.32,257.51 L353.91,257.59 L354.51,257.66 L355.10,257.73 L355.70,257.80 L356.29,257.88 L356.89,257.95 L357.48,258.02 L358.08,258.09 L358.67,258.16 L359.26,258.23 L359.86,258.30 L360.45,258.37 L361.05,258.44 L361.64,258.51 L362.24,258.58 L362.83,258.65 L363.42,258.72 L364.02,258.78 L364.61,258.85 L365.21,258.92 L365.80,258.99 L366.40,259.06 L366.99,259.13 L367.58,259.19 L368.18,259.26 L368.77,259.33 L369.37,259.40 L369.96,259.46 L370.56,259.53 L371.15,259.59 L371.74,259.66 L372.34,259.72 L372.93,259.79 L373.53,259.85 L374.12,259.92 L374.72,259.98 L375.31,260.04 L375.90,260.10 L376.50,260.17 L377.09,260.23 L377.69,260.29 L378.28,260.35 L378.88,260.41 L379.47,260.47 L380.06,260.53 L380.66,260.59 L381.25,260.65 L381.85,260.71 L382.44,260.76 L383.04,260.82 L383.63,260.88 L384.22,260.93 L384.82,260.99 L385.41,261.05 L386.01,261.10 L386.60,261.16 L387.20,261.21 L387.79,261.27 L388.38,261.32 L388.98,261.37 L389.57,261.43 L390.17,261.48 L390.76,261.53 L391.36,261.59 L391.95,261.64 L392.54,261.69 L393.14,261.74 L393.73,261.79 L394.33,261.84 L394.92,261.89 L395.52,261.94 L396.11,261.99 L396.70,262.04 L397.30,262.09 L397.89,262.14 L398.49,262.19 L399.08,262.23 L399.68,262.28 L400.27,262.33 L400.86,262.38 L401.46,262.42 L402.05,262.47 L402.65,262.51 L403.24,262.56 L403.84,262.60 L404.43,262.65 L405.02,262.69 L405.62,262.74 L406.21,262.78 L406.81,262.83 L407.40,262.87 L407.60,262.88" stroke="#993d71"/>
<path d="M11.40,273.08 L11.60,273.07 L12.19,273.05 L12.79,273.02 L13.38,273.00 L13.98,272.98 L14.57,272.96 L15.16,272.93 L15.76,272.91 L16.35,272.89 L16.95,272.87 L17.54,272.84 L18.14,272.82 L18.73,272.79 L19.32,272.77 L19.92,272.75 L20.51,272.72 L21.11,272.70 L21.70,272.67 L22.30,272.65 L22.89,272.62 L23.48,272.60 L24.08,272.57 L24.67,272.55 L25.27,272.52 L25.86,272.49 L26.46,272.47 L27.05,272.44 L27.64,272.42 L28.24,272.39 L28.83,272.36 L29.43,272.33 L30.02,272.31 L30.62,272.28 L31.21,272.25 L31.80,272.22 L32.40,272.20 L32.99,272.17 L33.59,272.14 L34.18,272.11 L34.78,272.08 L35.37,272.05 L35.96,272.02 L36.56,271.99 L37.15,271.96 L37.75,271.93 L38.34,271.90 L38.94,271.87 L39.53,271.84 L40.12,271.81 L40.72,271.78 L41.31,271.75 L41.91,271.71 L42.50,271.68 L43.10,271.65 L43.69,271.62 L44.28,271.59 L44.88,271.55 L45.47,271.52 L46.07,271.49 L46.66,271.45 L47.26,271.42 L47.85,271.38 L48.44,271.35 L49.04,271.31 L49.63,271.28 L50.23,271.24 L50.82,271.21 L51.42,271.17 L52.01,271.14 L52.60,271.10 L53.20,271.06 L53.79,271.03 L54.39,270.99 L54.98,270.95 L55.58,270.91 L56.17,270.88 L56.76,270.84 L57.36,270.80 L57.95,270.76 L58.55,270.72 L59.14,270.68 L59.74,270.64 L60.33,270.60 L60.92,270.56 L61.52,270.52 L62.11,270.48 L62.71,270.44 L63.30,270.40 L63.90,270.35 L64.49,270.31 L65.09,270.27 L65.68,270.23 L66.27,270.18 L66.87,270.14 L67.46,270.09 L68.06,270.05 L68.65,270.01 L69.25,269.96 L69.84,269.91 L70.43,269.87 L71.03,269.82 L71.62,269.78 L71.80,269.76 L72.22,269.73 L72.81,269.68 L73.41,269.63 L74.00,269.59 L74.59,269.54 L75.19,269.49 L75.78,269.44 L76.38,269.39 L76.97,269.34 L77.57,269.29 L78.16,269.24 L78.75,269.19 L79.35,269.14 L79.94,269.09 L80.54,269.04 L81.13,268.98 L81.73,268.93 L82.32,268.88 L82.91,268.82 L83.51,268.77 L84.10,268.72 L84.70,268.66 L85.29,268.61 L85.89,268.55 L86.48,268.49 L87.07,268.44 L87.67,268.38 L88.26,268.32 L88.86,268.27 L89.45,268.21 L90.05,268.15 L90.64,268.09 L91.23,268.03 L91.83,267.97 L92.42,267.91 L93.02,267.85 L93.61,267.79 L94.21,267.73 L94.80,267.66 L95.39,267.60 L95.99,267.54 L96.58,267.48 L97.18,267.41 L97.77,267.35 L98.37,267.28 L98.96,267.22 L99.55,267.15 L100.15,267.08 L100.74,267.02 L101.34,266.95 L101.93,266.88 L102.53,266.81 L103.12,266.74 L103.71,266.67 L104.31,266.60 L104.90,266.53 L105.50,266.46 L106.09,266.39 L106.69,266.32 L107.28,266.24 L107.87,266.17 L108.47,266.10 L109.06,266.02 L109.66,265.95 L110.25,265.87 L110.85,265.79 L111.44,265.72 L112.03,265.64 L112.63,265.56 L113.22,265.48 L113.82,265.40 L114.41,265.32 L115.01,265.24 L115.60,265.15 L116.19,265.07 L116.70,265.00 L116.79,264.99 L117.38,264.90 L117.98,264.82 L118.57,264.73 L119.17,264.64 L119.76,264.56 L120.35,264.47 L120.95,264.38 L121.54,264.29 L122.14,264.20 L122.73,264.10 L123.33,264.01 L123.92,263.92 L124.52,263.82 L125.11,263.73 L125.70,263.63 L126.30,263.53 L126.89,263.43 L127.49,263.34 L128.08,263.23 L128.68,263.13 L129.27,263.03 L129.86,262.93 L130.46,262.82 L131.05,262.72 L131.65,262.61 L132.24,262.50 L132.84,262.39 L133.43,262.28 L134.02,262.17 L134.62,262.06 L135.21,261.94 L135.81,261.83 L136.40,261.71 L137.00,261.59 L137.59,261.47 L138.18,261.35 L138.78,261.23 L139.37,261.10 L139.97,260.98 L140.56,260.85 L141.16,260.72 L141.75,260.59 L142.34,260.46 L142.94,260.33 L143.53,260.19 L144.13,260.05 L144.72,259.92 L145.32,259.77 L145.91,259.63 L146.50,259.49 L147.10,259.34 L147.69,259.19 L148.29,259.04 L148.88,258.88 L149.48,258.73 L150.07,258.57 L150.66,258.41 L151.26,258.24 L151.85,258.08 L152.45,257.91 L153.04,257.73 L153.64,257.56 L154.23,257.38 L154.82,257.19 L155.42,257.01 L156.01,256.82 L156.61,256.62 L157.20,256.43 L157.80,256.22 L158.39,256.02 L158.98,255.81 L159.58,255.59 L160.17,255.37 L160.77,255.15 L161.36,254.92 L161.96,254.68 L162.55,254.44 L163.14,254.19 L163.74,253.94 L164.33,253.69 L164.93,253.42 L165.52,253.15 L166.12,252.88 L166.71,252.60 L167.30,252.31 L167.90,252.01 L168.49,251.71 L169.09,251.40 L169.68,251.09 L170.28,250.77 L170.87,250.44 L171.46,250.10 L172.06,249.75 L172.65,249.40 L173.25,249.04 L173.84,248.67 L174.44,248.29 L175.03,247.90 L175.62,247.50 L176.22,247.09 L176.81,246.67 L177.41,246.24 L178.00,245.79 L178.60,245.34 L179.19,244.87 L179.78,244.39 L180.38,243.90 L180.97,243.39 L181.57,242.86 L182.16,242.32 L182.76,241.77 L183.35,241.19 L183.95,240.60 L184.54,239.99 L185.13,239.36 L185.73,238.70 L186.32,238.03 L186.92,237.33 L187.51,236.60 L188.11,235.85 L188.70,235.07 L189.29,234.26 L189.89,233.42 L190.48,232.54 L191.08,231.62 L191.67,230.67 L192.27,229.68 L192.86,228.63 L193.45,227.54 L194.05,226.40 L194.64,225.20 L195.24,223.94 L195.83,222.61 L196.43,221.21 L197.02,219.73 L197.61,218.15 L198.21,216.48 L198.80,214.70 L199.40,212.80 L199.99,210.77 L200.59,208.57 L201.18,206.21 L201.77,203.64 L202.37,200.84 L202.96,197.77 L203.24,196.26 L203.53,194.53 L203.56,194.38 L203.81,192.80 L204.08,191.06 L204.34,189.32 L204.58,187.58 L204.81,185.83 L205.03,184.08 L205.25,182.32 L205.45,180.57 L205.64,178.81 L205.82,177.05 L205.99,175.30 L206.16,173.54 L206.32,171.79 L206.47,170.04 L206.61,168.29 L206.75,166.55 L206.88,164.81 L207.00,163.07 L207.12,161.34 L207.23,159.62 L207.34,157.90 L207.44,156.19 L207.54,154.49 L207.63,152.79 L207.72,151.10 L207.80,149.42 L207.88,147.75 L207.96,146.09 L208.03,144.44 L208.10,142.80 L208.17,141.18 L208.23,139.56 L208.29,137.95 L208.35,136.36 L208.40,134.77 L208.45,133.20 L208.50,131.64 L208.55,130.10 L208.60,128.57 L208.64,127.05 L208.68,125.54 L208.72,124.05 L208.75,122.57 L208.79,121.11 L208.82,119.66 L208.86,118.23 L208.89,116.81 L208.91,115.40 L208.94,114.01 L208.97,112.64 L208.99,111.28 L209.02,109.93 L209.04,108.60 L209.06,107.29 L209.08,105.99 L209.10,104.71 L209.12,103.44 L209.14,102.19 L209.16,100.95 L209.17,99.73 L209.19,98.52 L209.20,97.33 L209.22,96.16 L209.23,95.00 L209.24,93.86 L209.25,92.73 L209.27,91.62 L209.28,90.52 L209.29,89.44 L209.30,88.38 L209.31,87.33 L209.32,86.30 L209.33,85.28 L209.33,84.28 L209.34,83.29 L209.35,82.32 L209.36,81.36 L209.36,80.42 L209.37,79.49 L209.38,78.58 L209.38,77.69 L209.39,76.81 L209.39,75.94 L209.40,75.09 L209.40,74.25 L209.41,73.43 L209.41,72.62 L209.42,71.82 L209.42,71.04 L209.42,70.28 L209.43,69.53 L209.43,68.79 L209.43,68.07 L209.44,67.36 L209.44,66.66 L209.44,65.92 L209.45,65.19 L209.45,64.50 L209.45,63.84 L209.45,63.21 L209.45,62.61 L209.46,62.04 L209.46,61.50 L209.46,60.98 L209.46,60.49 L209.46,60.02 L209.47,59.57 L209.47,59.14 L209.47,58.74 L209.47,58.35 L209.47,57.98 L209.47,57.63 L209.47,57.29 L209.48,56.97 L209.48,56.67 L209.48,56.38 L209.48,56.10 L209.48,55.84 L209.50,50.53 L209.52,55.84 L209.52,56.10 L209.52,56.38 L209.52,56.67 L209.52,56.97 L209.53,57.29 L209.53,57.63 L209.53,57.98 L209.53,58.35 L209.53,58.74 L209.53,59.14 L209.53,59.57 L209.54,60.02 L209.54,60.49 L209.54,60.98 L209.54,61.50 L209.54,62.04 L209.55,62.61 L209.55,63.21 L209.55,63.84 L209.55,64.50 L209.55,65.19 L209.56,65.92 L209.56,66.66 L209.56,67.36 L209.57,68.07 L209.57,68.79 L209.57,69.53 L209.58,70.28 L209.58,71.04 L209.58,71.82 L209.59,72.62 L209.59,73.43 L209.60,74.25 L209.60,75.09 L209.61,75.94 L209.61,76.81 L209.62,77.69 L209.62,78.58 L209.63,79.49 L209.64,80.42 L209.64,81.36 L209.65,82.32 L209.66,83.29 L209.67,84.28 L209.67,85.28 L209.68,86.30 L209.69,87.33 L209.70,88.38 L209.71,89.44 L209.72,90.52 L209.73,91.62 L209.75,92.73 L209.76,93.86 L209.77,95.00 L209.78,96.16 L209.80,97.33 L209.81,98.52 L209.83,99.73 L209.84,100.95 L209.86,102.19 L209.88,103.44 L209.90,104.71 L209.92,105.99 L209.94,107.29 L209.96,108.60 L209.98,109.93 L210.01,111.28 L210.03,112.64 L210.06,114.01 L210.09,115.40 L210.11,116.81 L210.14,118.23 L210.18,119.66 L210.21,121.11 L210.25,122.57 L210.28,124.05 L210.32,125.54 L210.36,127.05 L210.40,128.57 L210.45,130.10 L210.50,131.64 L210.55,133.20 L210.60,134.77 L210.65,136.36 L210.71,137.95 L210.77,139.56 L210.83,141.18 L210.90,142.80 L210.97,144.44 L211.04,146.09 L211.12,147.75 L211.20,149.42 L211.28,151.10 L211.37,152.79 L211.46,154.49 L211.56,156.19 L211.66,157.90 L211.77,159.62 L211.88,161.34 L212.00,163.07 L212.12,164.81 L212.25,166.55 L212.39,168.29 L212.53,170.04 L212.68,171.79 L212.84,173.54 L213.01,175.30 L213.18,177.05 L213.36,178.81 L213.55,180.57 L213.75,182.32 L213.97,184.08 L214.19,185.83 L214.42,187.58 L214.66,189.32 L214.92,191.06 L215.19,192.80 L215.44,194.38 L215.47,194.53 L215.76,196.26 L216.04,197.77 L216.63,200.84 L217.23,203.64 L217.82,206.21 L218.41,208.57 L219.01,210.77 L219.60,212.80 L220.20,214.70 L220.79,216.48 L221.39,218.15 L221.98,219.73 L222.57,221.21 L223.17,222.61 L223.76,223.94 L224.36,225.20 L224.95,226.40 L225.55,227.54 L226.14,228.63 L226.73,229.68 L227.33,230.67 L227.92,231.62 L228.52,232.54 L229.11,233.42 L229.71,234.26 L230.30,235.07 L230.89,235.85 L231.49,236.60 L232.08,237.33 L232.68,238.03 L233.27,238.70 L233.87,239.36 L234.46,239.99 L235.05,240.60 L235.65,241.19 L236.24,241.77 L236.84,242.32 L237.43,242.86 L238.03,243.39 L238.62,243.90 L239.22,244.39 L239.81,244.87 L240.40,245.34 L241.00,245.79 L241.59,246.24 L242.19,246.67 L242.78,247.09 L243.38,247.50 L243.97,247.90 L244.56,248.29 L245.16,248.67 L245.75,249.04 L246.35,249.40 L246.94,249.75 L247.54,250.10 L248.13,250.44 L248.72,250.77 L249.32,251.09 L249.91,251.40 L250.51,251.71 L251.10,252.01 L251.70,252.31 L252.29,252.60 L252.88,252.88 L253.48,253.15 L254.07,253.42 L254.67,253.69 L255.26,253.94 L255.86,254.19 L256.45,254.44 L257.04,254.68 L257.64,254.92 L258.23,255.15 L258.83,255.37 L259.42,255.59 L260.02,255.81 L260.61,256.02 L261.20,256.22 L261.80,256.43 L262.39,256.62 L262.99,256.82 L263.58,257.01 L264.18,257.19 L264.77,257.38 L265.36,257.56 L265.96,257.73 L266.55,257.91 L267.15,258.08 L267.74,258.24 L268.34,258.41 L268.93,258.57 L269.52,258.73 L270.12,258.88 L270.71,259.04 L271.31,259.19 L271.90,259.34 L272.50,259.49 L273.09,259.63 L273.68,259.77 L274.28,259.92 L274.87,260.05 L275.47,260.19 L276.06,260.33 L276.66,260.46 L277.25,260.59 L277.84,260.72 L278.44,260.85 L279.03,260.98 L279.63,261.10 L280.22,261.23 L280.82,261.35 L281.41,261.47 L282.00,261.59 L282.60,261.71 L283.19,261.83 L283.79,261.94 L284.38,262.06 L284.98,262.17 L285.57,262.28 L286.16,262.39 L286.76,262.50 L287.35,262.61 L287.95,262.72 L288.54,262.82 L289.14,262.93 L289.73,263.03 L290.32,263.13 L290.92,263.23 L291.51,263.34 L292.11,263.43 L292.70,263.53 L293.30,263.63 L293.89,263.73 L294.48,263.82 L295.08,263.92 L295.67,264.01 L296.27,264.10 L296.86,264.20 L297.46,264.29 L298.05,264.38 L298.65,264.47 L299.24,264.56 L299.83,264.64 L300.43,264.73 L301.02,264.82 L301.62,264.90 L302.21,264.99 L302.30,265.00 L302.81,265.07 L303.40,265.15 L303.99,265.24 L304.59,265.32 L305.18,265.40 L305.78,265.48 L306.37,265.56 L306.97,265.64 L307.56,265.72 L308.15,265.79 L308.75,265.87 L309.34,265.95 L309.94,266.02 L310.53,266.10 L311.13,266.17 L311.72,266.24 L312.31,266.32 L312.91,266.39 L313.50,266.46 L314.10,266.53 L314.69,266.60 L315.29,266.67 L315.88,266.74 L316.47,266.81 L317.07,266.88 L317.66,266.95 L318.26,267.02 L318.85,267.08 L319.45,267.15 L320.04,267.22 L320.63,267.28 L321.23,267.35 L321.82,267.41 L322.42,267.48 L323.01,267.54 L323.61,267.60 L324.20,267.66 L324.79,267.73 L325.39,267.79 L325.98,267.85 L326.58,267.91 L327.17,267.97 L327.77,268.03 L328.36,268.09 L328.95,268.15 L329.55,268.21 L330.14,268.27 L330.74,268.32 L331.33,268.38 L331.93,268.44 L332.52,268.49 L333.11,268.55 L333.71,268.61 L334.30,268.66 L334.90,268.72 L335.49,268.77 L336.09,268.82 L336.68,268.88 L337.27,268.93 L337.87,268.98 L338.46,269.04 L339.06,269.09 L339.65,269.14 L340.25,269.19 L340.84,269.24 L341.43,269.29 L342.03,269.34 L342.62,269.39 L343.22,269.44 L343.81,269.49 L344.41,269.54 L345.00,269.59 L345.59,269.63 L346.19,269.68 L346.78,269.73 L347.20,269.76 L347.38,269.78 L347.97,269.82 L348.57,269.87 L349.16,269.91 L349.75,269.96 L350.35,270.01 L350.94,270.05 L351.54,270.09 L352.13,270.14 L352.73,270.18 L353.32,270.23 L353.91,270.27 L354.51,270.31 L355.10,270.35 L355.70,270.40 L356.29,270.44 L356.89,270.48 L357.48,270.52 L358.08,270.56 L358.67,270.60 L359.26,270.64 L359.86,270.68 L360.45,270.72 L361.05,270.76 L361.64,270.80 L362.24,270.84 L362.83,270.88 L363.42,270.91 L364.02,270.95 L364.61,270.99 L365.21,271.03 L365.80,271.06 L366.40,271.10 L366.99,271.14 L367.58,271.17 L368.18,271.21 L368.77,271.24 L369.37,271.28 L369.96,271.31 L370.56,271.35 L371.15,271.38 L371.74,271.42 L372.34,271.45 L372.93,271.49 L373.53,271.52 L374.12,271.55 L374.72,271.59 L375.31,271.62 L375.90,271.65 L376.50,271.68 L377.09,271.71 L377.69,271.75 L378.28,271.78 L378.88,271.81 L379.47,271.84 L380.06,271.87 L380.66,271.90 L381.25,271.93 L381.85,271.96 L382.44,271.99 L383.04,272.02 L383.63,272.05 L384.22,272.08 L384.82,272.11 L385.41,272.14 L386.01,272.17 L386.60,272.20 L387.20,272.22 L387.79,272.25 L388.38,272.28 L388.98,272.31 L389.57,272.33 L390.17,272.36 L390.76,272.39 L391.36,272.42 L391.95,272.44 L392.54,272.47 L393.14,272.49 L393.73,272.52 L394.33,272.55 L394.92,272.57 L395.52,272.60 L396.11,272.62 L396.70,272.65 L397.30,272.67 L397.89,272.70 L398.49,272.72 L399.08,272.75 L399.68,272.77 L400.27,272.79 L400.86,272.82 L401.46,272.84 L402.05,272.87 L402.65,272.89 L403.24,272.91 L403.84,272.93 L404.43,272.96 L405.02,272.98 L405.62,273.00 L406.21,273.02 L406.81,273.05 L407.40,273.07 L407.60,273.08" stroke="#998b3d"/>
</g>
<g class="sans">
<text transform="translate(11.90,291) scale(1,1.06)" text-anchor="middle">−1.0</text>
<text transform="translate(110.95,291) scale(1,1.06)" text-anchor="middle">−0.5</text>
<text transform="translate(209.70,291) scale(1,1.06)" text-anchor="middle">0.0</text>
<text transform="translate(308.75,291) scale(1,1.06)" text-anchor="middle">0.5</text>
<text transform="translate(407.80,291) scale(1,1.06)" text-anchor="middle">1.0</text>
<text x="208.4" y="236.18" text-anchor="end">0.2</text>
<text x="208.4" y="188.46" text-anchor="end">0.4</text>
<text x="208.4" y="140.74" text-anchor="end">0.6</text>
<text x="208.4" y="93.02" text-anchor="end">0.8</text>
<text x="208.4" y="45.30" text-anchor="end">1.0</text>
</g>
<g class="serif">
<text x="295.8" y="221.7">E=0.1 eV</text>
<text x="303.2" y="256.7">E=0.2 eV</text>
<text x="222.1" y="268.7">E=0.3 eV</text>
<text x="287.3" y="97.8">Bi</text>
<text x="300.3" y="99.8" font-size="8">2</text>
<text x="306.5" y="97.8">Te</text>
<text x="318.3" y="99.8" font-size="8">3</text>
</g>
<g class="sans">
<path d="M192.9,2.0 L190.8,6.2 L192.9,10.4" fill="none" stroke="#333" stroke-width="0.7"/>
<text transform="translate(193.99,8.9) scale(0.85,1)" font-style="italic" stroke="none" font-size="11">δ</text>
<text transform="translate(199.62,8.9) scale(1.05,1)" font-style="italic" stroke="none" font-size="11">σ</text>
<text x="209.42" y="8.9" font-size="11">(</text>
<text transform="translate(213.73,8.9) scale(1.08,1)" font-style="italic" font-size="11">B</text>
<text x="222.04" y="8.9" font-size="11">)</text>
<path d="M226.6,2.0 L228.7,6.2 L226.6,10.4" fill="none" stroke="#333" stroke-width="0.7"/>
<rect x="180" y="12.3" width="57.8" height="1.2" fill="#8c8c8c"/>
<path d="M183.3,17.6 L181.2,22.3 L183.3,27.0" fill="none" stroke="#333" stroke-width="0.7"/>
<text transform="translate(184.89,25.7) scale(0.85,1)" font-style="italic" stroke="none" font-size="11">δ</text>
<text transform="translate(189.92,25.7) scale(1.05,1)" font-style="italic" stroke="none" font-size="11">σ</text>
<text x="199.52" y="25.7" font-size="11">(</text>
<text transform="translate(204.63,25.7) scale(1.08,1)" font-style="italic" font-size="11">B</text>
<text transform="translate(214.38,25.7) scale(1.15,1)" font-size="11">=</text>
<text x="223.87" y="25.7" font-size="11">0</text>
<text x="230.94" y="25.7" font-size="11">)</text>
<path d="M235.6,17.6 L237.7,22.3 L235.6,27.0" fill="none" stroke="#333" stroke-width="0.7"/>
<text transform="translate(424.03,274.6) scale(1.08,1)" font-style="italic" font-size="11">B</text>
<rect x="420.5" y="278.9" width="13.2" height="1.2" fill="#8c8c8c"/>
<text transform="translate(422.23,291.6) scale(1.08,1)" font-style="italic" font-size="11">B</text>
<text x="429.69" y="293.6" font-size="8">0</text>
</g>
</svg>
</body></html>
